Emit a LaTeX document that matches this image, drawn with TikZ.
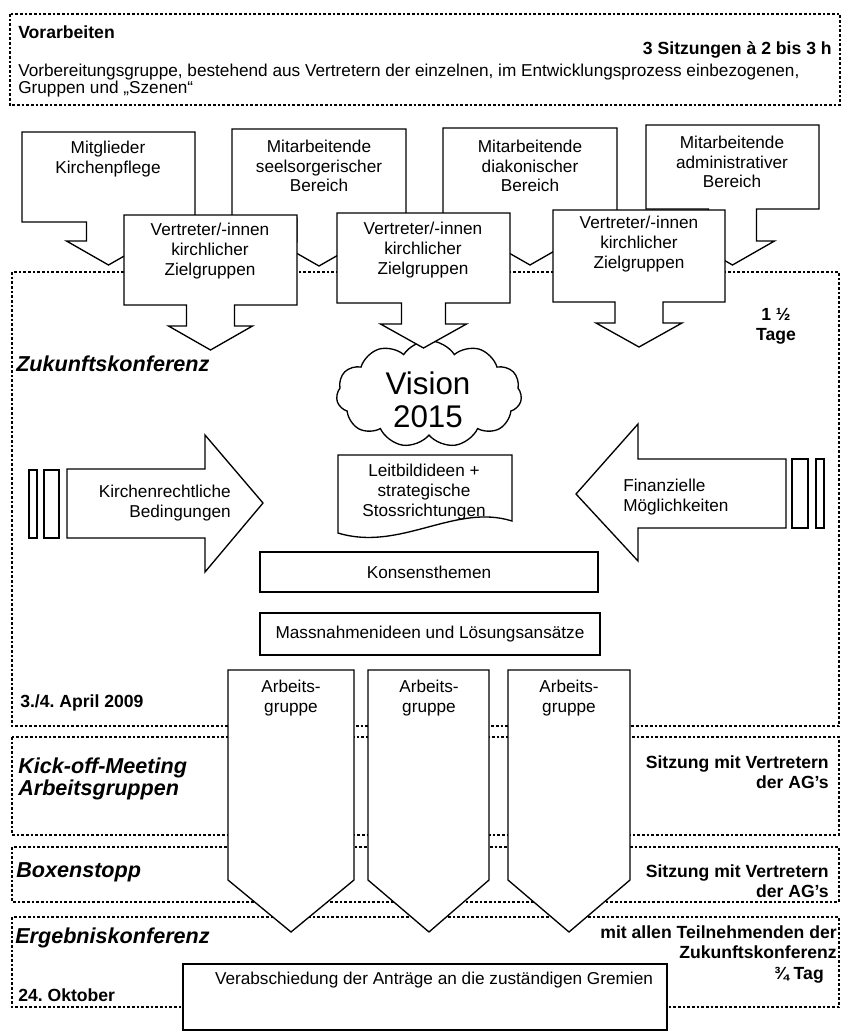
\documentclass[tikz,border=0pt]{standalone}
\usepackage{fontspec}
\setmainfont{Liberation Sans}
\usetikzlibrary{shapes.symbols}
\frenchspacing
\newcommand{\callbox}[8]{% name, x1,y1,x2,y2, tip y, shaft half, head half
  \pgfmathsetmacro\cbx{(#2+#4)/2}
  \draw[shp] (#2,#3) -- (#4,#3) -- (#4,#5) -- (\cbx+#7,#5) -- (\cbx+#7,#6-24) -- (\cbx+#8,#6-24)
     -- (\cbx,#6) coordinate (#1tip) -- (\cbx-#8,#6-24) -- (\cbx-#7,#6-24) -- (\cbx-#7,#5) -- (#2,#5) -- cycle;
}
\begin{document}
\begin{tikzpicture}[x=0.75pt,y=-0.75pt,
  shp/.style={draw=black, line width=1pt, fill=white, line join=miter},
  dotbox/.style={draw=black, line width=2.1pt, dash pattern=on 2pt off 1.5pt},
  txt/.style={font=\fontsize{12.9}{14.8}\selectfont, inner sep=0pt, align=center},
  btxt/.style={font=\bfseries\fontsize{13.2}{15}\selectfont, inner sep=0pt},
  ttl/.style={font=\bfseries\itshape\fontsize{16.2}{17}\selectfont, inner sep=0pt, anchor=west, align=left}
]
\useasboundingbox (0,0) rectangle (843,1031);

% ---------- dotted frames ----------
\draw[dotbox] (10,14) rectangle (840,105);
\draw[dotbox] (12,272) rectangle (839,726);
\draw[dotbox] (12,737) rectangle (839,835);
\draw[dotbox] (12,847) rectangle (839,902);
\draw[dotbox] (12,917) rectangle (839,1007);

% ---------- Vorarbeiten ----------
\node[btxt, anchor=west] (vor) at (18,32) {Vorarbeiten};
\node[btxt, anchor=east] (vorzeit) at (832,50) {3 Sitzungen à 2 bis 3 h};
\node[txt, anchor=west, align=left, font=\fontsize{12.9}{13}\selectfont] (vortext) at (18,80.5)
  {Vorbereitungsgruppe, bestehend aus Vertretern der einzelnen, im Entwicklungsprozess einbezogenen,\\Gruppen und „Szenen“};

% ---------- back callout boxes ----------
\callbox{b1}{22}{132}{195}{222}{265}{22}{42}
\callbox{b2}{232}{129}{406}{218}{266}{22}{42}
\callbox{b3}{443}{128}{617}{214}{265}{24}{42}
\callbox{b4}{646}{125}{819}{209}{265}{24}{42}
\node[txt] (b1t) at (108,159) {Mitglieder\\Kirchenpflege};
\node[txt] (b2t) at (319,166) {Mitarbeitende\\seelsorgerischer\\Bereich};
\node[txt] (b3t) at (530,166) {Mitarbeitende\\diakonischer\\Bereich};
\node[txt] (b4t) at (732,162) {Mitarbeitende\\administrativer\\Bereich};

% ---------- cloud ----------
\node[cloud, shp, cloud puffs=11, cloud puff arc=115, cloud ignores aspect,
      minimum width=139pt, minimum height=80pt, inner sep=0pt] (cloud) at (429,394) {};
\node[inner sep=0pt, align=center, font=\fontsize{23.5}{24.8}\selectfont] (vision) at (428,400) {Vision\\2015};

% ---------- front callout boxes ----------
\callbox{f1}{124}{215}{297}{305}{350}{24}{42}
\callbox{f2}{337}{213}{510}{303}{348}{22}{43}
\callbox{f3}{553}{210}{725}{302}{347}{24}{43}
\node[txt] (f1t) at (210,251) {Vertreter/-innen\\kirchlicher\\Zielgruppen};
\node[txt] (f2t) at (423,250) {Vertreter/-innen\\kirchlicher\\Zielgruppen};
\node[txt] (f3t) at (639,244) {Vertreter/-innen\\kirchlicher\\Zielgruppen};

\node[btxt, align=center] (dauer1) at (776,326) {1 ½\\Tage};
\node[ttl] (zuk) at (16,364) {Zukunftskonferenz};

% ---------- Leitbild document ----------
\draw[shp] (338,455) -- (512,455) -- (512,521) .. controls (455,503) and (400,552) .. (338,533) -- cycle;
\node[txt] (leit) at (424,492) {Leitbildideen +\\strategische\\Stossrichtungen};

% ---------- side arrows ----------
\draw[shp] (29,470) rectangle (37,538);
\draw[shp] (44,470) rectangle (59,538);
\draw[shp] (67,469) -- (205,469) -- (205,435) -- (263,503) -- (205,572) -- (205,538) -- (67,538) -- cycle;
\node[txt, anchor=east, align=right] (kirch) at (231,503) {Kirchenrechtliche\\Bedingungen};

\draw[shp] (792,459) rectangle (808,528);
\draw[shp] (816,459) rectangle (824,528);
\draw[shp] (786,459) -- (638,459) -- (638,424) -- (576,494) -- (638,561) -- (638,528) -- (786,528) -- cycle;
\node[txt, anchor=west, align=left] (fin) at (623,497) {Finanzielle\\Möglichkeiten};

% ---------- centre boxes ----------
\node[shp, txt, minimum width=253.5pt, minimum height=30pt] (kons) at (429,572) {Konsensthemen};
\node[shp, txt, minimum width=255pt, minimum height=31.5pt] (mass) at (430,634) {Massnahmenideen und Lösungsansätze};

% ---------- Arbeitsgruppen ----------
\draw[shp] (228,670) -- (354,670) -- (354,880) -- (291,932) -- (228,880) -- cycle;
\draw[shp] (368,670) -- (489,670) -- (489,880) -- (429,932) -- (368,880) -- cycle;
\draw[shp] (508,670) -- (630,670) -- (630,880) -- (569,932) -- (508,880) -- cycle;
\node[txt] (ag1) at (291,698) {Arbeits-\\gruppe};
\node[txt] (ag2) at (429,698) {Arbeits-\\gruppe};
\node[txt] (ag3) at (569,698) {Arbeits-\\gruppe};

\node[btxt, anchor=west] (datum1) at (20,703) {3./4. April 2009};

% ---------- Kick-off ----------
\node[ttl, font=\bfseries\itshape\fontsize{16.2}{16.8}\selectfont] (kick) at (18,779) {Kick-off-Meeting\\Arbeitsgruppen};
\node[btxt, anchor=east, align=right] (kicks) at (829,772) {Sitzung mit Vertretern\\der AG's};

% ---------- Boxenstopp ----------
\node[ttl] (box) at (16,872) {Boxenstopp};
\node[btxt, anchor=east, align=right] (boxs) at (829,881) {Sitzung mit Vertretern\\der AG's};

% ---------- Ergebniskonferenz ----------
\node[ttl] (erg) at (15,938) {Ergebniskonferenz};
\node[btxt, anchor=east, align=right] (ergs) at (837,942) {mit allen Teilnehmenden der\\Zukunftskonferenz};
\node[btxt, anchor=east] (dauer2) at (824,975) {¾ Tag};
\node[btxt, anchor=west] (datum2) at (18,995) {24. Oktober};
\draw[shp] (183,964) rectangle (667,1030);
\node[txt] (verab) at (434,980) {Verabschiedung der Anträge an die zuständigen Gremien};
\end{tikzpicture}
\end{document}
